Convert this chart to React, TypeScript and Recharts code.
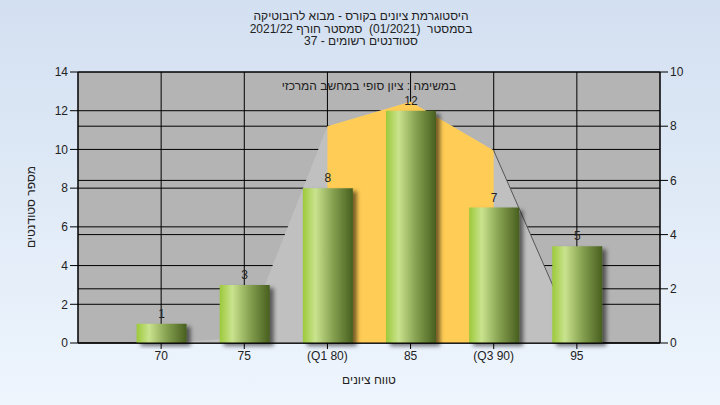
import React from 'react';
import { ComposedChart, Bar, Area, XAxis, YAxis, CartesianGrid, LabelList } from 'recharts';

// ציונים (מרכזי טווח) ומספר סטודנטים בכל טווח
const scores = [70, 75, 80, 85, 90, 95];
const tickLabels = ['70', '75', '(Q1 80)', '85', '(Q3 90)', '95'];
const students = [1, 3, 8, 12, 7, 5];
// עקומת ההתפלגות (ציר ימני) והטווח בין הרבעונים
const curve = [0, 0.2, 8, 8.9, 7.1, 0.1];
const quartileBand = [null, null, 8, 8.9, 7.1, null];
const curveEdge = [null, null, null, null, 7.1, 0.1];

const leftTicks = [0, 2, 4, 6, 8, 10, 12, 14];
const rightTicks = [0, 2, 4, 6, 8, 10];

const data = scores.map((s, i) => ({
  score: s,
  students: students[i],
  curve: curve[i],
  band: quartileBand[i],
  edge: curveEdge[i],
}));

const font = '"Liberation Sans", Arial, sans-serif';
const tickStyle = { fill: '#222', fontSize: 12, fontFamily: font };

export default function App() {
  return (
    <div
      style={{
        position: 'absolute',
        left: 0,
        top: 0,
        width: 720,
        height: 405,
        background: 'linear-gradient(to bottom, #d3e0f1 0%, #eef5fd 100%)',
        fontFamily: font,
        color: '#222',
      }}
    >
      <div style={{ position: 'absolute', left: 0, width: 722, top: 10, textAlign: 'center', fontSize: 12, lineHeight: '12.5px', direction: 'rtl' }}>
        <div>היסטוגרמת ציונים בקורס - מבוא לרובוטיקה</div>
        <div>בסמסטר&nbsp; (01/2021)&nbsp; סמסטר חורף 2021/22</div>
        <div>סטודנטים רשומים - 37</div>
      </div>

      <ComposedChart
        width={720}
        height={405}
        data={data}
        margin={{ top: 72, right: 0, bottom: 32, left: 0 }}
      >
        <defs>
          <linearGradient id="barFill" x1="0" y1="0" x2="1" y2="0">
            <stop offset="0%" stopColor="#9cc93a" />
            <stop offset="25%" stopColor="#c9e38e" />
            <stop offset="60%" stopColor="#86a150" />
            <stop offset="100%" stopColor="#485f1f" />
          </linearGradient>
          <filter id="barShadow" x="-20%" y="-20%" width="150%" height="150%">
            <feDropShadow dx="4" dy="3" stdDeviation="2" floodColor="#000" floodOpacity="0.55" />
          </filter>
        </defs>
        <CartesianGrid yAxisId="left" stroke="#000" fill="#b4b4b4" fillOpacity={1} />
        <CartesianGrid yAxisId="right" stroke="#000" vertical={false} />
        <XAxis
          dataKey="score"
          type="number"
          domain={[65, 100]}
          ticks={scores}
          tickFormatter={(v: number) => tickLabels[scores.indexOf(v)]}
          tick={tickStyle}
          axisLine={{ stroke: '#000' }}
          tickLine={{ stroke: '#000' }}
          tickSize={6}
          height={30}
        />
        <YAxis
          yAxisId="left"
          domain={[0, 14]}
          ticks={leftTicks}
          tick={tickStyle}
          axisLine={{ stroke: '#000' }}
          tickLine={{ stroke: '#000' }}
          tickSize={8}
          width={78}
        />
        <YAxis
          yAxisId="right"
          orientation="right"
          domain={[0, 10]}
          ticks={rightTicks}
          tick={tickStyle}
          axisLine={{ stroke: '#000' }}
          tickLine={{ stroke: '#000' }}
          tickSize={8}
          width={60}
        />
        <Area
          yAxisId="right"
          dataKey="curve"
          type="linear"
          fill="#c0c0c0"
          fillOpacity={1}
          stroke="none"
          isAnimationActive={false}
        />
        <Area
          yAxisId="right"
          dataKey="band"
          type="linear"
          fill="#ffcc55"
          fillOpacity={1}
          stroke="none"
          isAnimationActive={false}
        />
        <Area
          yAxisId="right"
          dataKey="edge"
          type="linear"
          fill="none"
          stroke="#555"
          strokeWidth={1}
          dot={false}
          activeDot={false}
          isAnimationActive={false}
        />
        <Bar
          yAxisId="left"
          dataKey="students"
          barSize={50}
          fill="url(#barFill)"
          filter="url(#barShadow)"
          isAnimationActive={false}
        >
          <LabelList dataKey="students" position="top" offset={6} fill="#222" fontSize={12} fontFamily={font} />
        </Bar>
      </ComposedChart>

      <div style={{ position: 'absolute', left: 78, width: 582, top: 79, textAlign: 'center', fontSize: 12, direction: 'rtl' }}>
        במשימה : ציון סופי במחשב המרכזי
      </div>
      <div style={{ position: 'absolute', left: 78, width: 582, top: 373, textAlign: 'center', fontSize: 12, direction: 'rtl' }}>
        טווח ציונים
      </div>
      <div
        style={{
          position: 'absolute',
          left: 31,
          top: 207,
          fontSize: 12,
          direction: 'rtl',
          whiteSpace: 'nowrap',
          transform: 'translate(-50%, -50%) rotate(-90deg)',
        }}
      >
        מספר סטודנטים
      </div>
    </div>
  );
}
